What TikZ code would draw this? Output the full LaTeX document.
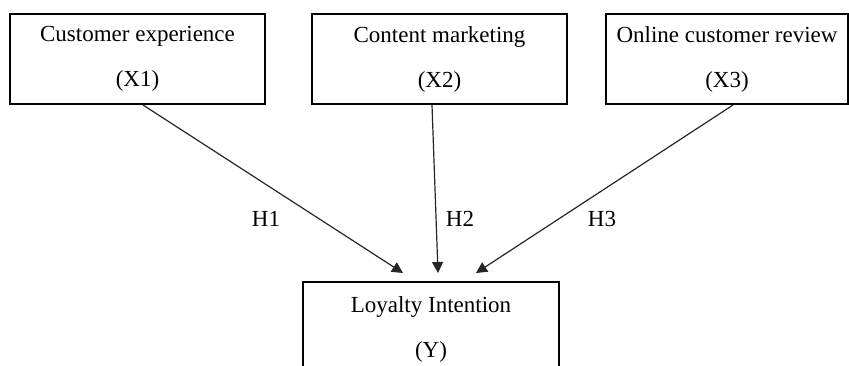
\documentclass[tikz,border=0pt]{standalone}
\usepackage{fontspec}
\setmainfont{Liberation Serif}
\usetikzlibrary{arrows.meta}
\begin{document}
\begin{tikzpicture}[x=1pt,y=-1pt,
  box/.style={draw=black, line width=2pt, align=center, inner sep=0pt,
    font=\fontsize{23}{45}\selectfont},
  link/.style={draw=black!85, line width=1.2pt, -{Triangle[length=11pt,width=11pt]}},
  hlabel/.style={font=\fontsize{23}{27}\selectfont, inner sep=0pt}]
\useasboundingbox (0,0) rectangle (849,365);
\clip (0,0) rectangle (849,365);
\node[box, minimum width=255pt, minimum height=90pt] (x1) at (137.5,59) {Customer experience\\(X1)};
\node[box, minimum width=255pt, minimum height=90pt] (x2) at (439.5,59) {Content marketing\\(X2)};
\node[box, minimum width=242pt, minimum height=90pt] (x3) at (727,59) {Online customer review\\(X3)};
\node[box, minimum width=256pt, minimum height=94pt] (y) at (431,329) {Loyalty Intention\\(Y)};
\coordinate (e1) at ([shift={(-28,-8)}]y.north);
\coordinate (e2) at ([shift={(7,-8)}]y.north);
\coordinate (e3) at ([shift={(45,-8)}]y.north);
\draw[link] ([xshift=5.5pt]x1.south) -- (e1);
\draw[link] ([xshift=-7.5pt]x2.south) -- (e2);
\draw[link] ([xshift=6pt]x3.south) -- (e3);
\node[hlabel] (h1) at (266,219) {H1};
\node[hlabel] (h2) at (460,219) {H2};
\node[hlabel] (h3) at (602,219) {H3};
\end{tikzpicture}
\end{document}
